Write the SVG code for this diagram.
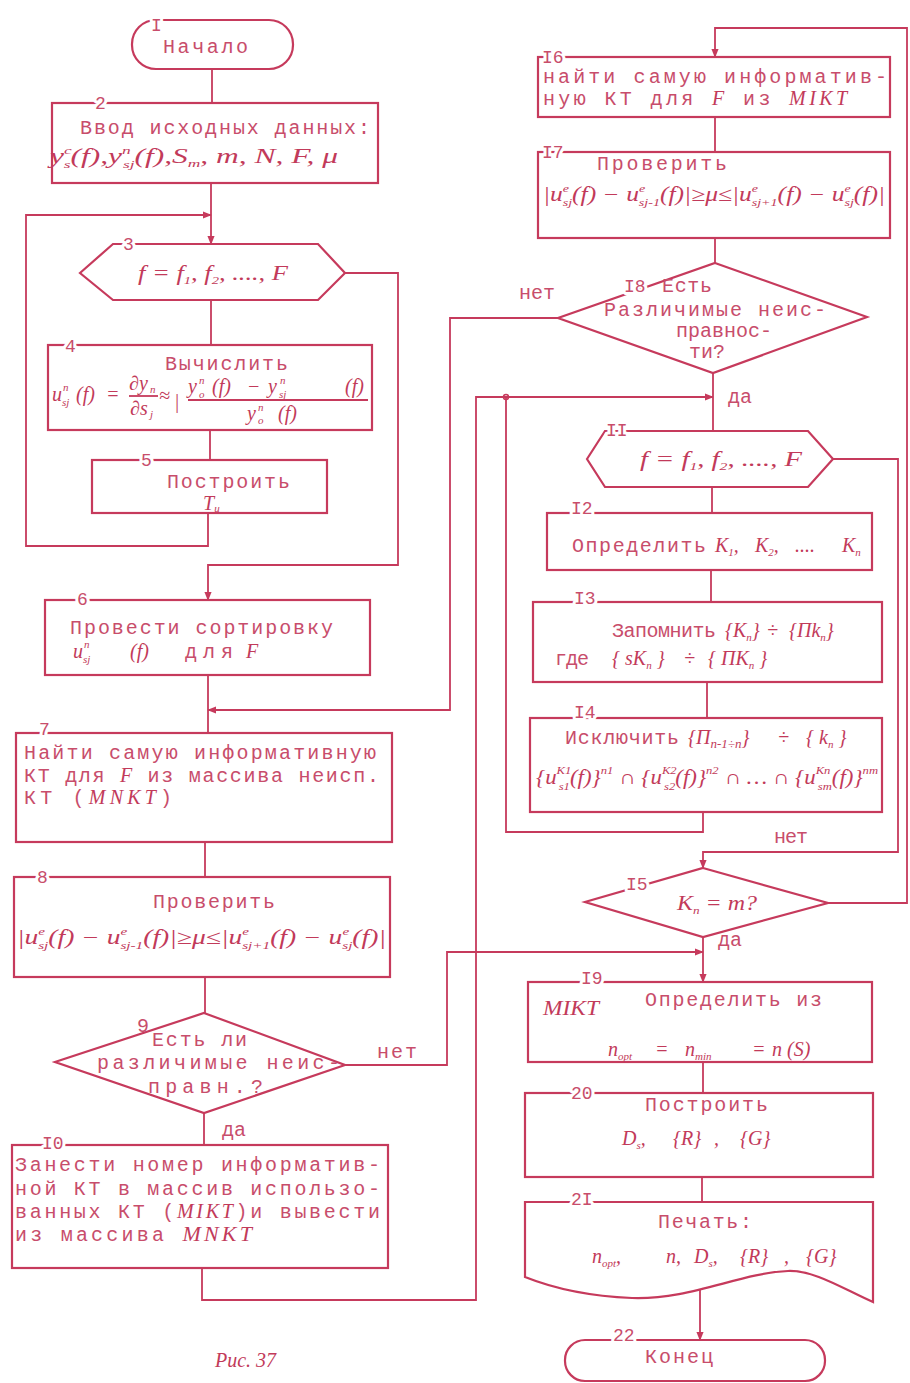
<svg xmlns="http://www.w3.org/2000/svg" width="910" height="1383" viewBox="0 0 910 1383">
<style>
.b{fill:none;stroke:#c63a5c;stroke-width:2.2}
.c{fill:none;stroke:#c63a5c;stroke-width:1.8}
.t{font-family:"Liberation Mono","DejaVu Sans Mono",monospace;font-size:20px;fill:#c84d6b}
.m{font-family:"Liberation Serif","DejaVu Serif",serif;font-style:italic;font-size:20px;fill:#c23a5a}
.i{font-family:"Liberation Serif","DejaVu Serif",serif;font-style:italic;fill:#c23a5a}
.sp{font-size:11px}
.lb{font-family:"Liberation Mono","DejaVu Sans Mono",monospace;font-size:18px;fill:#c84d6b;paint-order:stroke;stroke:#fff;stroke-width:6px;stroke-linejoin:round}
</style>
<defs>
<marker id="ar" viewBox="0 0 10 10" refX="9" refY="5" markerWidth="9" markerHeight="9" markerUnits="userSpaceOnUse" orient="auto">
<path d="M0,1 L10,5 L0,9 Z" fill="#c63a5c"/>
</marker>
</defs>
<rect width="910" height="1383" fill="#fff"/>

<g id="connectors">
<path class="c" d="M212,69 V103"/>
<path class="c" d="M211,183 V244" marker-end="url(#ar)"/>
<path class="c" d="M208,513 V546 H26 V215 H211" marker-end="url(#ar)"/>
<path class="c" d="M211,300 V345"/>
<path class="c" d="M210,430 V460"/>
<path class="c" d="M345,273 H398 V565 H208 V600" marker-end="url(#ar)"/>
<path class="c" d="M208,675 V733"/>
<path class="c" d="M558,318 H450 V710 H208" marker-end="url(#ar)"/>
<path class="c" d="M205,842 V877"/>
<path class="c" d="M205,977 V1013"/>
<path class="c" d="M345,1065 H447 V952 H703" marker-end="url(#ar)"/>
<path class="c" d="M204,1113 V1145"/>
<path class="c" d="M202,1268 V1300 H476 V397 H713" marker-end="url(#ar)"/>
<path class="c" d="M713,373 V431"/>
<path class="c" d="M712,487 V513"/>
<path class="c" d="M711,570 V602"/>
<path class="c" d="M707,682 V718"/>
<path class="c" d="M703,812 V832 H506 V397"/>
<circle cx="506" cy="397" r="2.5" fill="none" stroke="#c63a5c" stroke-width="1.5"/>
<path class="c" d="M833,459 H898 V852 H703 V868" marker-end="url(#ar)"/>
<path class="c" d="M828,903 H907 V28 H715 V57" marker-end="url(#ar)"/>
<path class="c" d="M715,117 V152"/>
<path class="c" d="M715,238 V263"/>
<path class="c" d="M703,937 V982" marker-end="url(#ar)"/>
<path class="c" d="M703,1062 V1093"/>
<path class="c" d="M702,1177 V1202"/>
<path class="c" d="M700,1290 V1340" marker-end="url(#ar)"/>
<text class="t" x="377" y="1058" textLength="40">нет</text>
<text class="t" x="222" y="1136" font-size="18">да</text>
<text class="t" x="519" y="299" textLength="36">нет</text>
<text class="t" x="728" y="403" font-size="18">да</text>
<text class="t" x="774" y="843" textLength="34">нет</text>
<text class="t" x="718" y="946" font-size="18">да</text>
</g>

<g id="n1">
<rect class="b" x="132" y="20" width="161" height="49" rx="24"/>
<text class="lb" x="151" y="31">I</text>
<text class="t" x="163" y="53" textLength="85">Начало</text>
</g>

<g id="n2">
<rect class="b" x="52" y="103" width="326" height="80"/>
<text class="lb" x="95" y="109">2</text>
<text class="t" x="80" y="134" textLength="290">Ввод исходных данных:</text>
<text class="m" x="50" y="163" font-size="22" textLength="288" lengthAdjust="spacingAndGlyphs">y<tspan class="sp" dy="-9">c</tspan><tspan class="sp" dx="-5" dy="14">s</tspan><tspan dy="-5">(f),y</tspan><tspan class="sp" dy="-9">n</tspan><tspan class="sp" dx="-5" dy="14">sj</tspan><tspan dy="-5">(f),S</tspan><tspan class="sp" dy="4">m</tspan><tspan dy="-4">, m, N, F, μ</tspan></text>
</g>

<g id="n3">
<polygon class="b" points="80,273 113,244 318,244 345,273 318,300 113,300"/>
<text class="lb" x="123" y="250">3</text>
<text class="m" x="138" y="280" font-size="22" textLength="150" lengthAdjust="spacingAndGlyphs">f = f<tspan class="sp" dy="4">1</tspan><tspan dy="-4">, f</tspan><tspan class="sp" dy="4">2</tspan><tspan dy="-4">, ...., F</tspan></text>
</g>

<g id="n4">
<rect class="b" x="48" y="345" width="324" height="85"/>
<text class="lb" x="65" y="352">4</text>
<text class="t" x="165" y="370" textLength="123">Вычислить</text>
<text class="m" x="52" y="401">u</text>
<text class="m sp" x="63" y="391">n</text>
<text class="m sp" x="62" y="406">sj</text>
<text class="m" x="76" y="401">(f)</text>
<text class="m" x="106" y="401">=</text>
<text class="m" x="129" y="390">∂y</text>
<text class="m sp" x="150" y="393">n</text>
<line class="c" x1="129" y1="396" x2="158" y2="396" stroke-width="1.2"/>
<text class="m" x="130" y="415">∂s</text>
<text class="m sp" x="150" y="418">j</text>
<text class="m" x="159" y="402">≈</text>
<text class="m" x="174" y="408" font-size="28" font-style="normal">|</text>
<text class="m" x="188" y="393">y</text>
<text class="m sp" x="199" y="384">n</text>
<text class="m sp" x="199" y="398">o</text>
<text class="m" x="212" y="393">(f)</text>
<text class="m" x="247" y="393">−</text>
<text class="m" x="268" y="393">y</text>
<text class="m sp" x="280" y="384">n</text>
<text class="m sp" x="279" y="398">sj</text>
<text class="m" x="345" y="393">(f)</text>
<line class="c" x1="188" y1="400" x2="368" y2="400" stroke-width="1.2"/>
<text class="m" x="247" y="420">y</text>
<text class="m sp" x="258" y="411">n</text>
<text class="m sp" x="258" y="424">o</text>
<text class="m" x="278" y="420">(f)</text>
</g>

<g id="n5">
<rect class="b" x="92" y="460" width="235" height="53"/>
<text class="lb" x="141" y="466">5</text>
<text class="t" x="167" y="488" textLength="123">Построить</text>
<text class="m" x="203" y="510">T<tspan class="sp" dy="2">u</tspan></text>
</g>

<g id="n6">
<rect class="b" x="45" y="600" width="325" height="75"/>
<text class="lb" x="77" y="605">6</text>
<text class="t" x="70" y="634" textLength="263">Провести сортировку</text>
<text class="m" x="73" y="658">u</text>
<text class="m sp" x="84" y="648">n</text>
<text class="m sp" x="83" y="663">sj</text>
<text class="m" x="130" y="658">(f)</text>
<text class="t" x="185" y="658" textLength="48">для</text>
<text class="m" x="246" y="658">F</text>
</g>

<g id="n7">
<rect class="b" x="16" y="733" width="376" height="109"/>
<text class="lb" x="39" y="735">7</text>
<text class="t" x="24" y="759" textLength="352">Найти самую информативную</text>
<text class="t" x="24" y="782" textLength="355">КТ для <tspan class="i">F</tspan> из массива неисп.</text>
<text class="t" x="24" y="804" textLength="148">КТ (<tspan class="i">MNKT</tspan>)</text>
</g>

<g id="n8">
<rect class="b" x="14" y="877" width="376" height="100"/>
<text class="lb" x="37" y="883">8</text>
<text class="t" x="153" y="908" textLength="122">Проверить</text>
<text class="m" x="17" y="944" textLength="369" lengthAdjust="spacingAndGlyphs">|u<tspan class="sp" dy="-9">e</tspan><tspan class="sp" dx="-5" dy="14">sj</tspan><tspan dy="-5">(f) − u</tspan><tspan class="sp" dy="-9">e</tspan><tspan class="sp" dx="-5" dy="14">sj-1</tspan><tspan dy="-5">(f)|≥μ≤|u</tspan><tspan class="sp" dy="-9">e</tspan><tspan class="sp" dx="-5" dy="14">sj+1</tspan><tspan dy="-5">(f) − u</tspan><tspan class="sp" dy="-9">e</tspan><tspan class="sp" dx="-5" dy="14">sj</tspan><tspan dy="-5">(f)|</tspan></text>
</g>

<g id="n9">
<polygon class="b" points="204,1013 345,1065 204,1113 55,1062"/>
<text class="t" x="137" y="1032" font-size="18">9</text>
<text class="t" x="152" y="1046" textLength="95">Есть ли</text>
<text class="t" x="97" y="1069" textLength="243">различимые неис-</text>
<text class="t" x="148" y="1093" textLength="115">правн.?</text>
</g>

<g id="n10">
<rect class="b" x="12" y="1145" width="376" height="123"/>
<text class="lb" x="42" y="1149">I0</text>
<text class="t" x="15" y="1171" textLength="365">Занести номер информатив-</text>
<text class="t" x="15" y="1195" textLength="365">ной КТ в массив использо-</text>
<text class="t" x="15" y="1218" textLength="365">ванных КТ (<tspan class="i">MIKT</tspan>)и вывести</text>
<text class="t" x="15" y="1241" textLength="237">из массива <tspan class="i" font-size="22">MNKT</tspan></text>
</g>

<g id="caption">
<text class="m" x="215" y="1367" font-size="18">Рис. 37</text>
</g>

<g id="n16">
<rect class="b" x="538" y="57" width="352" height="60"/>
<text class="lb" x="542" y="63">I6</text>
<text class="t" x="543" y="83" textLength="344">найти самую информатив-</text>
<text class="t" x="543" y="105" textLength="304">ную КТ для <tspan class="i">F</tspan>  из <tspan class="i">MIKT</tspan></text>
</g>

<g id="n17">
<rect class="b" x="538" y="152" width="352" height="86"/>
<text class="lb" x="542" y="158">I7</text>
<text class="t" x="597" y="170" textLength="130">Проверить</text>
<text class="m" x="543" y="201" textLength="342" lengthAdjust="spacingAndGlyphs">|u<tspan class="sp" dy="-9">e</tspan><tspan class="sp" dx="-5" dy="14">sj</tspan><tspan dy="-5">(f) − u</tspan><tspan class="sp" dy="-9">e</tspan><tspan class="sp" dx="-5" dy="14">sj-1</tspan><tspan dy="-5">(f)|≥μ≤|u</tspan><tspan class="sp" dy="-9">e</tspan><tspan class="sp" dx="-5" dy="14">sj+1</tspan><tspan dy="-5">(f) − u</tspan><tspan class="sp" dy="-9">e</tspan><tspan class="sp" dx="-5" dy="14">sj</tspan><tspan dy="-5">(f)|</tspan></text>
</g>

<g id="n18">
<polygon class="b" points="715,263 867,317 713,373 558,318"/>
<text class="lb" x="624" y="292" font-size="17">I8</text>
<text class="t" x="662" y="292" font-size="18" textLength="50">Есть</text>
<text class="t" x="604" y="316" font-size="17" textLength="222">Различимые неис-</text>
<text class="t" x="676" y="337" font-size="13">правнос-</text>
<text class="t" x="689" y="358" font-size="13">ти?</text>
</g>

<g id="n11">
<polygon class="b" points="587,459 605,431 808,431 833,459 808,487 605,487"/>
<text class="lb" x="606" y="436">II</text>
<text class="m" x="640" y="466" font-size="22" textLength="162" lengthAdjust="spacingAndGlyphs">f = f<tspan class="sp" dy="4">1</tspan><tspan dy="-4">, f</tspan><tspan class="sp" dy="4">2</tspan><tspan dy="-4">, ...., F</tspan></text>
</g>

<g id="n12">
<rect class="b" x="547" y="513" width="325" height="57"/>
<text class="lb" x="571" y="514">I2</text>
<text class="t" x="572" y="552" textLength="134">Определить</text>
<text class="m" x="715" y="552" font-size="22">K<tspan class="sp" dy="4">1</tspan><tspan dy="-4">,</tspan></text>
<text class="m" x="755" y="552" font-size="22">K<tspan class="sp" dy="4">2</tspan><tspan dy="-4">,</tspan></text>
<text class="m" x="795" y="552" font-size="22">....</text>
<text class="m" x="842" y="552" font-size="22">K<tspan class="sp" dy="4">n</tspan></text>
</g>

<g id="n13">
<rect class="b" x="533" y="602" width="349" height="80"/>
<text class="lb" x="574" y="604">I3</text>
<text class="t" x="612" y="637" textLength="104">Запомнить</text>
<text class="m" x="725" y="637">{K<tspan class="sp" dy="4">n</tspan><tspan dy="-4">}</tspan></text>
<text class="m" x="767" y="637">÷</text>
<text class="m" x="789" y="637">{Пk<tspan class="sp" dy="4">n</tspan><tspan dy="-4">}</tspan></text>
<text class="t" x="555" y="665" textLength="34">где</text>
<text class="m" x="612" y="665">{ sK<tspan class="sp" dy="4">n</tspan><tspan dy="-4"> }</tspan></text>
<text class="m" x="684" y="665">÷</text>
<text class="m" x="708" y="665">{ ПK<tspan class="sp" dy="4">n</tspan><tspan dy="-4"> }</tspan></text>
</g>

<g id="n14">
<rect class="b" x="530" y="718" width="352" height="94"/>
<text class="lb" x="574" y="718">I4</text>
<text class="t" x="565" y="744" textLength="114">Исключить</text>
<text class="m" x="688" y="744">{П<tspan font-size="13" dy="4">n-1÷n</tspan><tspan dy="-4">}</tspan></text>
<text class="m" x="778" y="744">÷</text>
<text class="m" x="806" y="744">{ k<tspan class="sp" dy="4">n</tspan><tspan dy="-4"> }</tspan></text>
<text class="m" x="536" y="784" textLength="342" lengthAdjust="spacingAndGlyphs">{u<tspan class="sp" dy="-10">K1</tspan><tspan class="sp" dx="-11" dy="16">s1</tspan><tspan dy="-6">(f)}</tspan><tspan class="sp" dy="-10">n1</tspan><tspan dy="10"> ∩ {u</tspan><tspan class="sp" dy="-10">K2</tspan><tspan class="sp" dx="-11" dy="16">s2</tspan><tspan dy="-6">(f)}</tspan><tspan class="sp" dy="-10">n2</tspan><tspan dy="10"> ∩ … ∩ {u</tspan><tspan class="sp" dy="-10">Kn</tspan><tspan class="sp" dx="-11" dy="16">sm</tspan><tspan dy="-6">(f)}</tspan><tspan class="sp" dy="-10">nm</tspan></text>
</g>

<g id="n15">
<polygon class="b" points="703,868 828,903 703,937 585,902"/>
<text class="lb" x="626" y="890">I5</text>
<text class="m" x="677" y="910" textLength="80" lengthAdjust="spacingAndGlyphs">K<tspan class="sp" dy="4">n</tspan><tspan dy="-4"> = m?</tspan></text>
</g>

<g id="n19">
<rect class="b" x="528" y="982" width="344" height="80"/>
<text class="lb" x="581" y="984">I9</text>
<text class="t" x="645" y="1006" textLength="177">Определить  из</text>
<text class="m" x="543" y="1015" textLength="56" lengthAdjust="spacingAndGlyphs">MIKT</text>
<text class="m" x="608" y="1056">n<tspan class="sp" dy="4">opt</tspan></text>
<text class="m" x="655" y="1056">=</text>
<text class="m" x="685" y="1056">n<tspan class="sp" dy="4">min</tspan></text>
<text class="m" x="752" y="1056">=</text>
<text class="m" x="772" y="1056">n (S)</text>
</g>

<g id="n20">
<rect class="b" x="525" y="1093" width="348" height="84"/>
<text class="lb" x="571" y="1099">20</text>
<text class="t" x="645" y="1111" textLength="123">Построить</text>
<text class="m" x="622" y="1145" font-size="22">D<tspan class="sp" dy="4">s</tspan><tspan dy="-4">,</tspan></text>
<text class="m" x="673" y="1145" font-size="22">{R}</text>
<text class="m" x="714" y="1145" font-size="22">,</text>
<text class="m" x="740" y="1145" font-size="22">{G}</text>
</g>

<g id="n21">
<path class="b" d="M525,1202 H873 V1302 C845,1290 815,1270 788,1271 C740,1273 690,1300 632,1298 C585,1296 550,1287 525,1277 Z"/>
<text class="lb" x="571" y="1205">2I</text>
<text class="t" x="658" y="1228" textLength="94">Печать:</text>
<text class="m" x="592" y="1263" font-size="21">n<tspan class="sp" dy="4">opt</tspan><tspan dy="-4">,</tspan></text>
<text class="m" x="666" y="1263" font-size="21">n,</text>
<text class="m" x="694" y="1263" font-size="21">D<tspan class="sp" dy="4">s</tspan><tspan dy="-4">,</tspan></text>
<text class="m" x="740" y="1263" font-size="21">{R}</text>
<text class="m" x="784" y="1263" font-size="21">,</text>
<text class="m" x="806" y="1263" font-size="21">{G}</text>
</g>

<g id="n22">
<rect class="b" x="565" y="1340" width="260" height="41" rx="20"/>
<text class="lb" x="613" y="1341">22</text>
<text class="t" x="645" y="1363" textLength="68">Конец</text>
</g>
</svg>
